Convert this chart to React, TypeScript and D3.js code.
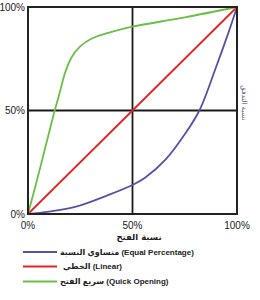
import React from "react";
import * as d3 from "d3";

const xTicks = [0, 0.5, 1];
const xTickLabels = ["0%", "50%", "100%"];
const yTicks = [0, 0.5, 1];
const yTickLabels = ["0%", "50%", "100%"];

const linearX = [0, 1];
const linearY = [0, 1];

const quickX = [0, 0.06, 0.12, 0.15, 0.18, 0.21, 0.25, 0.31, 0.4, 0.5, 0.75, 1];
const quickY = [0, 0.23, 0.47, 0.58, 0.69, 0.76, 0.81, 0.85, 0.88, 0.905, 0.95, 1];

const eqX = [0, 0.1, 0.225, 0.38, 0.5, 0.56, 0.66, 0.75, 0.82, 0.9, 0.957, 1];
const eqY = [0, 0.012, 0.034, 0.09, 0.14, 0.175, 0.265, 0.385, 0.5, 0.71, 0.87, 1];

const seriesNames = [
  "متساوي النسبة (Equal Percentage)",
  "الخطي (Linear)",
  "سريع الفتح (Quick Opening)",
];
const seriesColors = ["#5a4fa6", "#e42424", "#6abf45"];

const xTitle = "نسبة الفتح";
const yTitle = "نسبة التدفق";

const FONT = "'Liberation Sans', Arial, 'DejaVu Sans', sans-serif";

export default function App() {
  const left = 28, right = 237, top = 7, bottom = 214;
  const x = d3.scaleLinear().domain([0, 1]).range([left, right]);
  const y = d3.scaleLinear().domain([0, 1]).range([bottom, top]);

  const mk = (xs: number[], ys: number[]) =>
    d3
      .line<number>()
      .x((_, i) => x(xs[i]))
      .y((_, i) => y(ys[i]))
      .curve(d3.curveCatmullRom.alpha(0.5))(xs.map((v) => v)) || "";

  const series = [
    { xs: eqX, ys: eqY },
    { xs: linearX, ys: linearY },
    { xs: quickX, ys: quickY },
  ];

  const legendY = [252, 266.5, 281.5];

  return (
    <svg
      width={260}
      height={300}
      style={{ position: "absolute", left: 0, top: 0, background: "#fff" }}
      fontFamily={FONT}
    >
      <rect x={0} y={0} width={260} height={300} fill="#fff" />
      <line x1={x(0.5)} x2={x(0.5)} y1={top} y2={bottom} stroke="#1a1a1a" strokeWidth={1.8} />
      <line x1={left} x2={right} y1={y(0.5)} y2={y(0.5)} stroke="#1a1a1a" strokeWidth={1.8} />
      {series.map((s, i) => (
        <path key={i} d={mk(s.xs, s.ys)} fill="none" stroke={seriesColors[i]} strokeWidth={1.8} />
      ))}
      <rect x={left} y={top} width={right - left} height={bottom - top} fill="none" stroke="#222" strokeWidth={2} />
      {yTicks.map((t, i) => (
        <text key={i} x={left - 3} y={y(t)} dy="0.35em" textAnchor="end" fontSize={10} fill="#222">
          {yTickLabels[i]}
        </text>
      ))}
      {xTicks.map((t, i) => (
        <text key={i} x={x(t)} y={bottom + 11} dy="0.35em" textAnchor="middle" fontSize={10} fill="#222">
          {xTickLabels[i]}
        </text>
      ))}
      <text x={139} y={237} dy="0.35em" textAnchor="middle" fontSize={8.5} fontWeight="bold" fill="#222" fontFamily="'DejaVu Sans', sans-serif">
        {xTitle}
      </text>
      <text
        transform={`translate(244,103) rotate(90)`}
        textAnchor="middle"
        dy="0.35em"
        fontSize={7}
        fill="#5a6080"
        fontFamily="'DejaVu Sans', sans-serif"
      >
        {yTitle}
      </text>
      {seriesNames.map((n, i) => (
        <g key={i}>
          <line x1={23} x2={57} y1={legendY[i]} y2={legendY[i]} stroke={seriesColors[i]} strokeWidth={1.8} />
          <text x={i === 1 ? 63 : 60} y={legendY[i]} dy="0.35em" fontSize={8} fontWeight="bold" fill="#222" direction="ltr">
            {n}
          </text>
        </g>
      ))}
    </svg>
  );
}
